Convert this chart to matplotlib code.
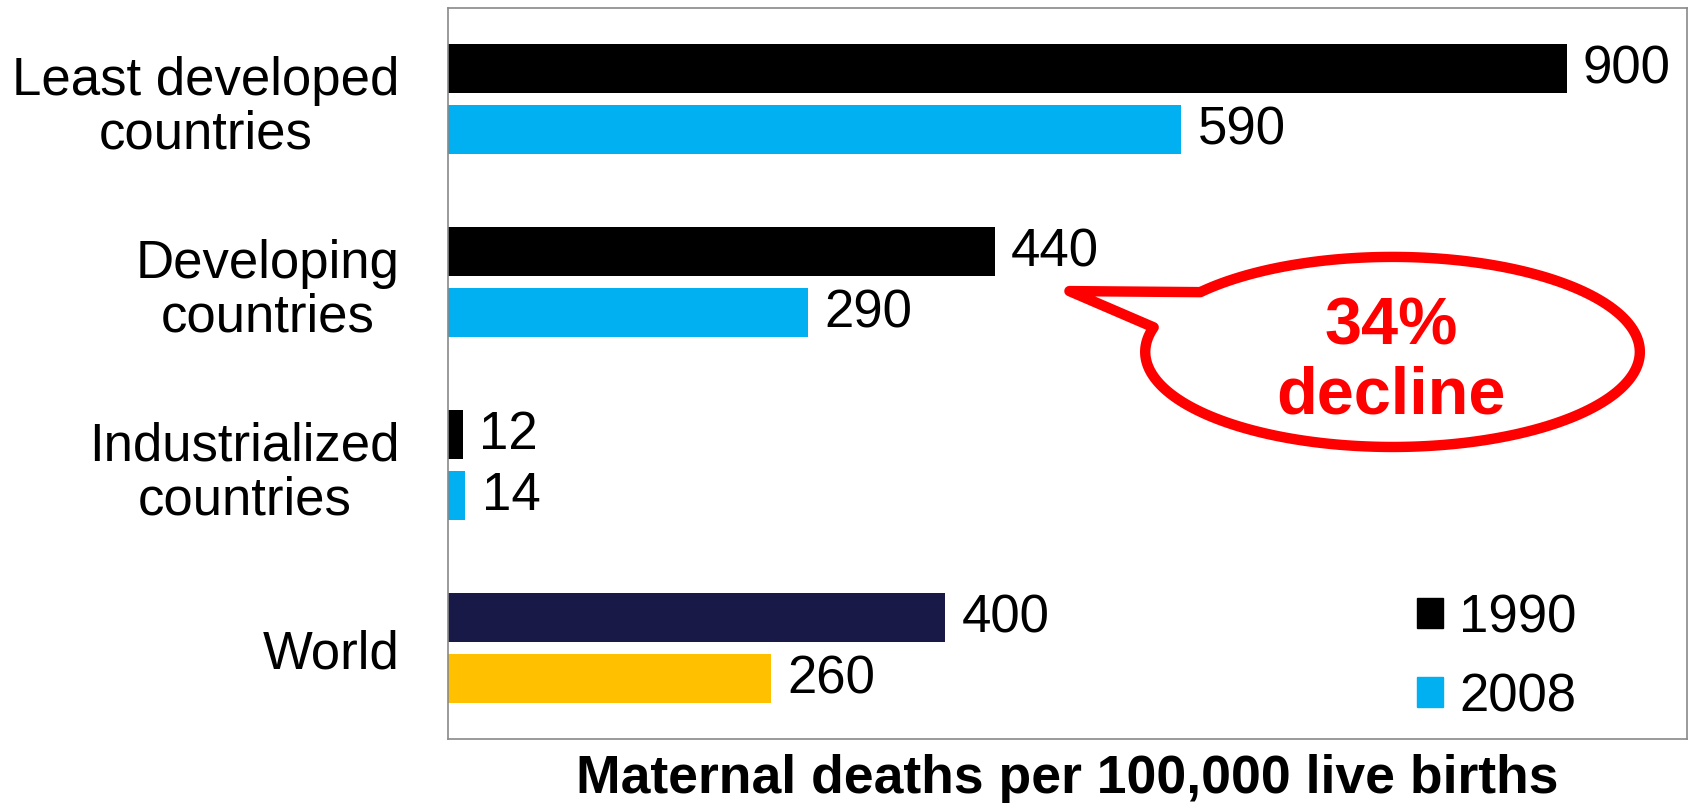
import matplotlib.pyplot as plt
import numpy as np
from matplotlib.patches import Patch, Polygon

plt.rcParams['font.family'] = ['Liberation Sans', 'DejaVu Sans']

categories = ['Least developed\ncountries', 'Developing\ncountries',
              'Industrialized\ncountries', 'World']
vals_1990 = [900, 440, 12, 400]
vals_2008 = [590, 290, 14, 260]
colors_1990 = ['#000000', '#000000', '#000000', '#191947']
colors_2008 = ['#00B0F0', '#00B0F0', '#00B0F0', '#FFC000']
series_names = ['1990', '2008']
xlabel = 'Maternal deaths per 100,000 live births'
callout_text = '34%\ndecline'

fig = plt.figure(figsize=(16.94, 8.04), dpi=100)
ax = fig.add_axes([0.2645, 0.0796, 0.7314, 0.9092])

y = np.arange(len(categories))
h = 0.268
off = 0.167
ax.barh(y - off, vals_1990, height=h, color=colors_1990)
ax.barh(y + off, vals_2008, height=h, color=colors_2008)

for yi, v in zip(y - off, vals_1990):
    ax.text(v + 13, yi, str(v), va='center', ha='left', fontsize=38)
for yi, v in zip(y + off, vals_2008):
    ax.text(v + 13, yi, str(v), va='center', ha='left', fontsize=38)

ax.set_xlim(0, 997)
ax.set_ylim(3.5, -0.5)
ax.set_xticks([])
ax.set_yticks(y)
ax.set_yticklabels(categories, fontsize=38, linespacing=1.1)
for t in ax.get_yticklabels():
    t.set_multialignment('center')
ax.tick_params(axis='y', length=0, pad=35)
for s in ax.spines.values():
    s.set_color('#898989')
    s.set_linewidth(1.2)
ax.set_xlabel(xlabel, fontsize=38.5, fontweight='bold', labelpad=10)

# speech bubble callout
cx, cy, a, b = 760, 1.382, 199, 0.52
t = np.radians(np.linspace(219, 195 + 360, 300))
pts = list(zip(cx + a * np.cos(t), cy + b * np.sin(t)))
pts.append((500, 1.049))
bubble = Polygon(pts, closed=True, facecolor='white', edgecolor='#FF0000',
                 linewidth=7.5, joinstyle='round', zorder=5)
ax.add_patch(bubble)
ax.text(759, 1.432, callout_text, color='#FF0000', fontsize=48, fontweight='bold',
        ha='center', va='center', linespacing=1.15, zorder=6)

handles = [Patch(color='#000000'), Patch(color='#00B0F0')]
ax.legend(handles, series_names, loc='center left', bbox_to_anchor=(0.765, 0.112),
          frameon=False, fontsize=38, handlelength=0.5, handleheight=0.5,
          handletextpad=0.3, labelspacing=0.55, borderaxespad=0)

fig.savefig('out.png', dpi=100)
